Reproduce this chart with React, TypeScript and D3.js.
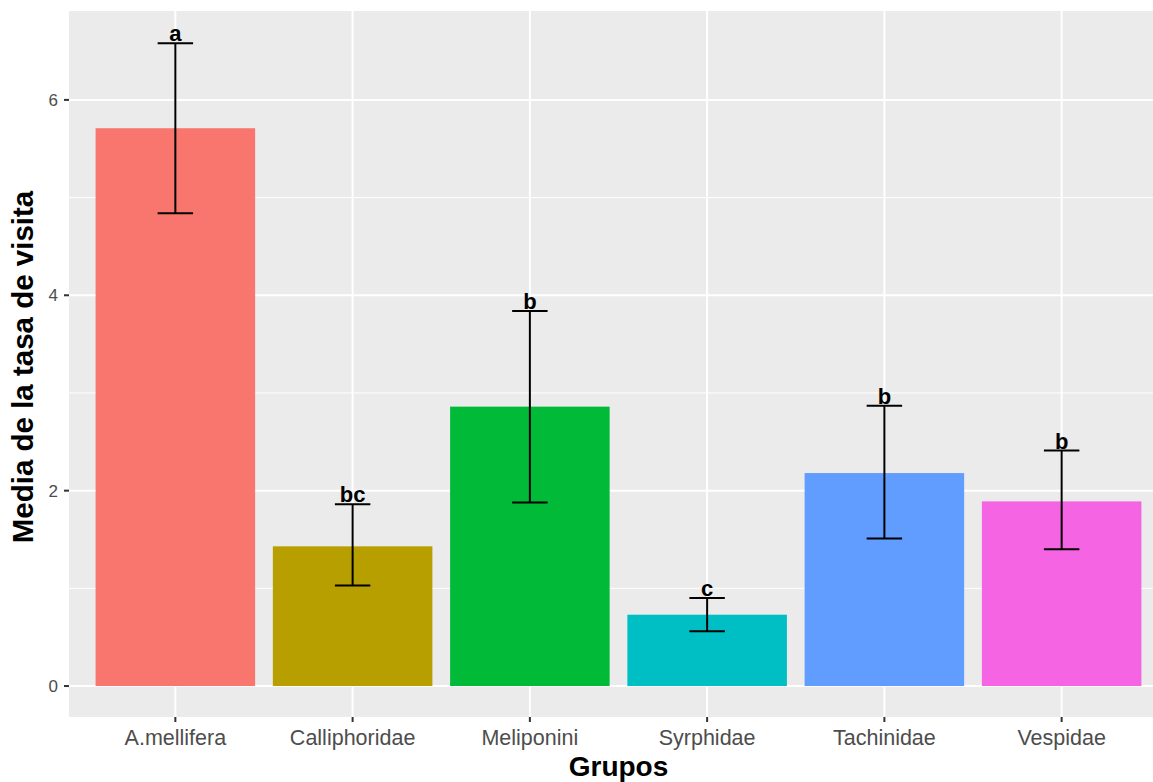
import * as d3 from "d3";
import React from "react";

// group names, means, error bar limits and significance letters
const grupos = ["A.mellifera", "Calliphoridae", "Meliponini", "Syrphidae", "Tachinidae", "Vespidae"];
const medias = [5.71, 1.43, 2.86, 0.73, 2.18, 1.89];
const superior = [6.58, 1.86, 3.84, 0.9, 2.87, 2.41];
const inferior = [4.84, 1.03, 1.88, 0.56, 1.51, 1.4];
const letras = ["a", "bc", "b", "c", "b", "b"];
const colores = ["#F8766D", "#B79F00", "#00BA38", "#00BFC4", "#619CFF", "#F564E3"];
const yTicks = [0, 2, 4, 6];
const yMinor = [1, 3, 5];

export default function App() {
  const width = 1153;
  const height = 782;
  const panel = { left: 69, right: 1168, top: 11, bottom: 717 };

  const x = d3
    .scaleBand<string>()
    .domain(grupos)
    .range([panel.left, panel.right])
    .paddingInner(0.1)
    .paddingOuter(0.15);
  const step = x.step();
  const center = (g: string) => (x(g) as number) + x.bandwidth() / 2;

  const y = d3.scaleLinear().domain([-0.317, 6.91]).range([panel.bottom, panel.top]);

  const font = "'Liberation Sans', Arial, Helvetica, sans-serif";
  const capHalf = step * 0.1;

  return (
    <svg width={width} height={height} style={{ display: "block", position: "absolute", left: 0, top: 0 }} fontFamily={font}>
      <rect x={0} y={0} width={width} height={height} fill="white" />
      {/* panel */}
      <rect x={panel.left} y={panel.top} width={panel.right - panel.left} height={panel.bottom - panel.top} fill="#EBEBEB" />
      {yMinor.map((t) => (
        <line key={"mn" + t} x1={panel.left} x2={panel.right} y1={y(t)} y2={y(t)} stroke="white" strokeWidth={1} />
      ))}
      {yTicks.map((t) => (
        <line key={"mj" + t} x1={panel.left} x2={panel.right} y1={y(t)} y2={y(t)} stroke="white" strokeWidth={2} />
      ))}
      {grupos.map((g) => (
        <line key={"vx" + g} x1={center(g)} x2={center(g)} y1={panel.top} y2={panel.bottom} stroke="white" strokeWidth={2} />
      ))}

      {/* bars */}
      {grupos.map((g, i) => (
        <rect key={"b" + g} x={x(g)} y={y(medias[i])} width={x.bandwidth()} height={y(0) - y(medias[i])} fill={colores[i]} />
      ))}

      {/* error bars */}
      {grupos.map((g, i) => {
        const cx = center(g);
        return (
          <g key={"e" + g} stroke="black" strokeWidth={2}>
            <line x1={cx} x2={cx} y1={y(superior[i])} y2={y(inferior[i])} />
            <line x1={cx - capHalf} x2={cx + capHalf} y1={y(superior[i])} y2={y(superior[i])} />
            <line x1={cx - capHalf} x2={cx + capHalf} y1={y(inferior[i])} y2={y(inferior[i])} />
          </g>
        );
      })}

      {/* letters */}
      {grupos.map((g, i) => (
        <text key={"l" + g} x={center(g)} y={y(superior[i]) - 2} textAnchor="middle" fontWeight="bold" fontSize={22} fill="black">
          {letras[i]}
        </text>
      ))}

      {/* y axis */}
      {yTicks.map((t) => (
        <g key={"yt" + t}>
          <line x1={panel.left - 5} x2={panel.left} y1={y(t)} y2={y(t)} stroke="#333333" strokeWidth={2} />
          <text x={panel.left - 11} y={y(t)} dy="0.35em" textAnchor="end" fontSize={17} fill="#4D4D4D">
            {t}
          </text>
        </g>
      ))}

      {/* x axis */}
      {grupos.map((g) => (
        <g key={"xt" + g}>
          <line x1={center(g)} x2={center(g)} y1={panel.bottom} y2={panel.bottom + 5} stroke="#333333" strokeWidth={2} />
          <text x={center(g)} y={panel.bottom + 28} textAnchor="middle" fontSize={21.5} fill="#4D4D4D">
            {g}
          </text>
        </g>
      ))}

      {/* titles */}
      <text x={(panel.left + panel.right) / 2} y={776} textAnchor="middle" fontWeight="bold" fontSize={28} fill="black">
        Grupos
      </text>
      <text
        transform={`translate(33,${(panel.top + panel.bottom) / 2 + 3}) rotate(-90)`}
        textAnchor="middle"
        fontWeight="bold"
        fontSize={29.5}
        fill="black"
      >
        Media de la tasa de visita
      </text>
    </svg>
  );
}
